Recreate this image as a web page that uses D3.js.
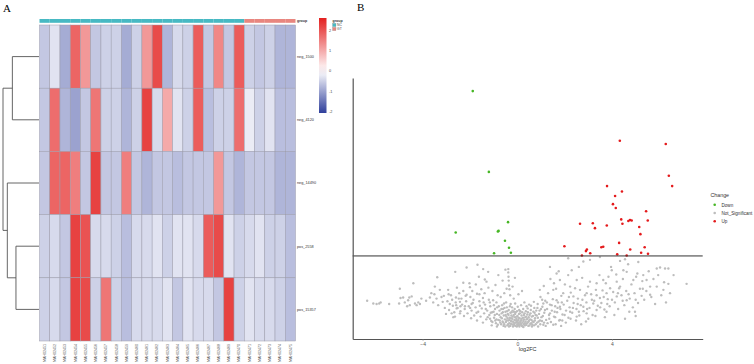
<!DOCTYPE html>
<html lang="en">
<head>
<meta charset="UTF-8"/>
<title>Heatmap and volcano plot</title>
<script src="https://d3js.org/d3.v7.min.js"></script>
<style>
  body { margin: 0; background: #fff; }
  text { font-family: "Liberation Sans", Arial, sans-serif; }
</style>
</head>
<body>
<div id="chart"></div>
<script>
// ---------- panel A data ----------
var samples = ["MAH02451","MAH02452","MAH02453","MAH02454","MAH02455","MAH02456","MAH02457","MAH02458","MAH02459","MAH02460",
               "MAH02461","MAH02462","MAH02463","MAH02464","MAH02465","MAH02466","MAH02467","MAH02468","MAH02469","MAH02470",
               "MAH02471","MAH02472","MAH02473","MAH02474","MAH02475"];
var groups = ["NC","NC","NC","NC","NC","NC","NC","NC","NC","NC","NC","NC","NC","NC","NC","NC","NC","NC","NC","NC",
              "GT","GT","GT","GT","GT"];
var genes = ["neg_1500", "neg_4120", "neg_14490", "pos_2558", "pos_15357"];
var expr = [
  [-0.6,-0.3,-0.9,1.8,1.2,-0.6,-0.5,-0.5,-0.9,-0.5,1.2,2.1,-0.8,-0.4,-0.5,1.9,-0.6,1.4,-0.6,1.9,-0.5,-0.6,-0.5,-0.8,-0.8],
  [-0.6,1.7,-0.8,-1.0,-0.6,1.6,-0.5,-0.5,-0.8,-0.5,2.2,-0.4,1.0,-0.3,-0.5,1.9,-0.7,-0.5,-0.5,1.7,-0.2,-0.5,-0.3,-0.7,-0.7],
  [-0.6,1.8,1.8,1.5,-0.6,2.2,-0.6,-0.6,1.5,-0.6,-0.8,-0.6,-0.6,-0.7,-0.6,-0.6,-0.6,1.2,-0.6,-0.8,-0.6,-0.6,-0.6,-0.8,-0.8],
  [-0.5,-0.4,-0.6,2.2,2.0,-0.4,-0.4,-0.5,-0.7,-0.4,-0.4,-0.3,-0.5,-0.3,-0.3,-0.4,1.9,2.1,-0.3,-0.5,-0.4,-0.3,-0.5,-0.5,-0.7],
  [-0.5,-0.4,-0.6,2.2,2.1,-0.5,1.6,-0.5,-0.7,-0.4,-0.4,-0.4,-0.3,-0.6,-0.3,-0.4,-0.4,-0.6,2.2,-0.5,-0.3,-0.4,-0.4,-0.5,-0.7]
];
// dendrogram merges (height of the join)
var merges = [
  {id: "c1", left: "neg_1500", right: "neg_4120", height: 7.4},
  {id: "c3", left: "pos_2558", right: "pos_15357", height: 6.4},
  {id: "c2", left: "neg_14490", right: "c3", height: 8.8},
  {id: "root", left: "c1", right: "c2", height: 10}
];
var colorTicks = [2, 1, 0, -1, -2];

// ---------- panel B data (log2FC, -log10 p) ----------
var downPts = [[-1.88,4.32],[-1.20,2.84],[-2.60,1.73],[-0.39,1.92],[-0.82,1.75],[-0.79,1.76],[-0.52,1.58],[-0.35,1.45],[-0.98,1.35],[-0.27,1.36]];
var upPts = [[4.33,3.41],[6.27,3.35],[6.40,2.77],[6.54,2.58],[3.79,2.58],[4.42,2.48],[4.13,2.40],[4.04,2.25],[4.16,2.18],[5.44,2.12],
  [4.39,1.97],[5.51,1.95],[4.69,1.94],[4.76,1.96],[4.83,1.95],[4.44,1.89],[2.65,1.89],[3.19,1.90],[3.28,1.81],[3.78,1.86],
  [5.15,1.83],[5.20,1.70],[1.99,1.48],[4.30,1.54],[3.55,1.46],[3.63,1.47],[2.94,1.42],[2.90,1.39],[3.08,1.35],[2.73,1.31],
  [4.77,1.42],[5.38,1.46],[5.23,1.36],[5.52,1.34],[4.22,1.33],[4.62,1.31]];
var nsPts = [
  [-6.34,0.48],[-6.08,0.43],[-5.94,0.42],[-5.83,0.43],[-5.77,0.45],[-5.41,0.42],
  [-4.96,0.70],[-4.39,0.80],[-4.93,0.53],[-4.82,0.54],[-4.75,0.45],[-4.61,0.49],[-4.54,0.40],[-4.46,0.56],[-4.32,0.43],[-4.18,0.45],
  [-4.11,0.42],[-4.99,0.43],[-4.65,0.38],[-4.56,0.54],[-4.25,0.40],
  [-3.69,0.54],[-3.48,0.74],[-3.38,0.91],[-3.27,0.68],[-3.15,0.46],[-3.06,0.35],[-2.92,0.68],[-2.85,0.42],[-3.55,0.45],[-3.34,0.40],
  [-3.01,0.24],[-2.77,0.25],[-3.63,0.62],[-3.10,0.57],[-3.41,0.52],[-2.59,0.54],[-2.62,1.01],[-2.14,1.09],[-1.68,1.14],[-1.44,1.06],
  [-1.23,1.01],[-1.37,0.87],[-2.28,0.81],[-2.00,0.73],[-2.14,0.59],[-2.45,0.62],[-2.42,0.46],[-2.21,0.38],[-1.93,0.42],[-2.56,0.34],
  [-2.42,0.25],[-2.63,0.19],
  [-0.38,1.06],[-0.38,1.00],[-0.37,0.92],[-0.36,0.85],[-0.35,0.76],[-0.33,0.69],
  [-0.75,0.30],[-0.70,0.18],[-0.66,0.25],[-0.62,0.10],[-0.60,0.33],[-0.57,0.21],[-0.55,0.05],[-0.52,0.14],[-0.50,0.28],[-0.48,0.09],
  [-0.46,0.19],[-0.44,0.36],[-0.42,0.03],[-0.40,0.24],[-0.38,0.12],[-0.36,0.31],[-0.34,0.07],[-0.32,0.17],[-0.30,0.02],[-0.29,0.26],
  [-0.27,0.11],[-0.25,0.21],[-0.23,0.05],[-0.21,0.15],[-0.20,0.30],[-0.18,0.01],[-0.16,0.09],[-0.15,0.22],[-0.13,0.04],[-0.12,0.13],
  [-0.10,0.18],[-0.08,0.02],[-0.07,0.27],[-0.05,0.08],[-0.04,0.15],[-0.02,0.01],[-0.01,0.11],[0.00,0.05],[0.01,0.20],[0.03,0.03],
  [0.04,0.13],[0.06,0.07],[0.07,0.24],[0.09,0.01],[0.10,0.16],[0.12,0.09],[0.13,0.29],[0.15,0.04],[0.17,0.12],[0.18,0.21],
  [0.20,0.02],[0.22,0.08],[0.24,0.17],[0.25,0.33],[0.27,0.05],[0.29,0.14],[0.31,0.25],[0.33,0.03],[0.35,0.10],[0.37,0.19],
  [0.39,0.38],[0.41,0.07],[0.43,0.15],[0.45,0.27],[0.47,0.02],[0.49,0.11],[0.52,0.22],[0.55,0.06],[0.57,0.31],[0.60,0.13],
  [0.63,0.04],[0.66,0.20],[0.69,0.09],[0.72,0.35],[0.75,0.16],[0.78,0.05],[-0.64,0.40],[-0.28,0.42],[0.02,0.37],[0.30,0.45],
  [-0.11,0.33],[0.16,0.40],[-0.47,0.45],[0.50,0.41],[-0.22,0.36],[0.08,0.31],[-0.35,0.01],[0.26,0.00],[-0.58,0.02],[0.62,0.01],
  [-0.09,0.43],[0.44,0.34],[-0.72,0.08],[0.73,0.26],
  [-1.15,0.15],[-1.05,0.09],[-0.95,0.22],[-0.88,0.14],[-0.82,0.04],[-0.78,0.38],[-0.74,0.12],[-0.68,0.05],[-0.65,0.16],[-0.61,0.27],
  [-0.59,0.08],[-0.54,0.35],[-0.51,0.01],[-0.49,0.22],[-0.45,0.12],[-0.43,0.29],[-0.41,0.16],[-0.39,0.05],[-0.37,0.22],[-0.33,0.13],
  [-0.31,0.38],[-0.28,0.06],[-0.26,0.16],[-0.24,0.27],[-0.22,0.10],[-0.19,0.19],[-0.17,0.04],[-0.14,0.28],[-0.12,0.07],[-0.09,0.24],
  [-0.06,0.12],[-0.03,0.19],[-0.01,0.29],[0.02,0.09],[0.05,0.17],[0.08,0.04],[0.11,0.25],[0.14,0.12],[0.16,0.06],[0.19,0.15],
  [0.21,0.27],[0.23,0.01],[0.26,0.11],[0.28,0.22],[0.32,0.07],[0.34,0.18],[0.36,0.29],[0.38,0.04],[0.40,0.14],[0.42,0.23],
  [0.46,0.09],[0.48,0.18],[0.51,0.03],[0.54,0.14],[0.56,0.25],[0.59,0.07],[0.61,0.19],[0.65,0.10],[0.68,0.28],[0.71,0.03],
  [0.74,0.12],[0.77,0.22],[0.80,0.30],[0.84,0.08],[0.87,0.17],[0.92,0.24],[0.97,0.05],[1.00,0.33],[1.04,0.11],[1.08,0.20],
  [1.13,0.08],[1.17,0.31],[-1.12,0.26],[-0.99,0.40],[-0.93,0.12],[-0.86,0.01],[-0.76,0.22],[-0.67,0.33],[-0.56,0.43],[0.58,0.39],
  [0.70,0.46],[0.85,0.35],[-1.00,0.28],[1.10,0.43],
  [-2.95,0.47],[-2.88,0.31],[-2.80,0.58],[-2.72,0.39],[-2.66,0.27],[-2.60,0.45],[-2.52,0.35],[-2.47,0.52],[-2.40,0.29],[-2.33,0.41],
  [-2.28,0.66],[-2.22,0.33],[-2.16,0.47],[-2.10,0.25],[-2.05,0.38],[-1.98,0.55],[-1.93,0.30],[-1.88,0.44],[-1.82,0.21],[-1.76,0.36],
  [-1.70,0.61],[-1.65,0.28],[-1.60,0.47],[-1.55,0.19],[-1.50,0.34],[-1.45,0.53],[-1.40,0.25],[-1.36,0.41],[-1.31,0.14],[-1.27,0.30],
  [-1.22,0.72],[-1.18,0.22],[-1.14,0.38],[-1.10,0.11],[-1.06,0.27],[-1.02,0.49],[-0.98,0.17],[-0.94,0.33],[-0.90,0.07],[-0.86,0.24],
  [-0.83,0.58],[-0.80,0.13],[-1.75,0.78],[-1.52,0.69],[-1.30,0.83],[-1.05,0.66],[-0.92,0.77],[-2.55,0.72],[-2.02,0.80],[-1.62,0.92],
  [-0.88,0.45],[-1.20,0.50],[-1.45,0.08],[-1.70,0.12],[-1.95,0.16],[-2.25,0.20],[-2.70,0.18],[-1.08,0.03],[-0.85,0.36],[-1.38,0.62],
  [-2.90,0.60],[-2.75,0.50],[-2.58,0.40],[-2.36,0.52],[-2.18,0.57],[-1.99,0.35],[-1.85,0.50],[-1.72,0.26],[-1.58,0.39],[-1.42,0.45],
  [-1.33,0.33],[-1.25,0.18],[-1.16,0.45],[-1.60,0.60],[-1.90,0.66],[-2.40,0.38],[-3.20,0.55],[-3.50,0.60],[-3.85,0.48],[-4.05,0.52],
  [-0.70,0.55],[-0.55,0.62],[-0.45,0.70],[-0.30,0.58],[-0.15,0.52],[-0.62,0.85],[-0.20,0.74],[0.05,0.60],[-0.80,0.95],[-0.50,1.05],
  [-0.10,0.90],[0.20,0.66],
  [0.82,0.21],[0.86,0.42],[0.90,0.10],[0.94,0.30],[0.98,0.55],[1.02,0.18],[1.06,0.37],[1.10,0.04],[1.14,0.26],[1.18,0.48],
  [1.22,0.13],[1.26,0.33],[1.30,0.62],[1.34,0.22],[1.38,0.41],[1.42,0.09],[1.46,0.30],[1.50,0.51],[1.55,0.19],[1.60,0.38],
  [1.64,0.70],[1.68,0.27],[1.72,0.45],[1.77,0.12],[1.82,0.33],[1.86,0.57],[1.91,0.23],[1.96,0.41],[2.01,0.78],[2.06,0.30],
  [2.11,0.48],[2.16,0.17],[2.21,0.36],[2.26,0.63],[2.32,0.26],[2.38,0.44],[2.44,0.71],[2.50,0.33],[2.56,0.52],[2.62,0.21],
  [2.68,0.40],[2.74,0.90],[2.80,0.29],[2.86,0.58],[2.92,0.45],[2.99,0.74],[3.05,0.35],[3.12,0.60],[3.18,0.22],[3.25,0.48],
  [3.32,0.68],[3.40,0.39],[3.47,0.95],[1.12,0.75],[1.40,0.88],[0.95,0.68],[1.75,1.02],[2.15,0.95],[2.60,1.10],[1.55,0.80],
  [0.88,0.01],[1.20,0.02],[1.62,0.05],[2.05,0.08],[2.48,0.12],[0.96,0.12],[1.28,0.07],[2.70,0.05],[3.00,0.15],[1.85,0.02],
  [1.05,0.50],[1.25,0.45],[1.45,0.40],[1.58,0.28],[1.70,0.35],[1.88,0.45],[2.00,0.22],[2.18,0.55],[2.35,0.35],[2.55,0.42],
  [2.75,0.50],[2.95,0.33],[3.15,0.50],[3.35,0.58],[3.50,0.36],[3.65,0.55],[3.80,0.42],[4.00,0.50],[4.25,0.62],[4.45,0.48],
  [4.70,0.60],[5.00,0.50],[5.30,0.70],[1.35,0.15],[1.60,0.18],[1.90,0.12],[2.25,0.15],[2.60,0.28],[2.90,0.10],[3.30,0.20],
  [2.15,1.26],[3.07,1.23],[3.49,1.28],[4.34,1.21],[4.55,1.24],[5.11,1.19],[2.79,1.20],[5.89,1.07],[6.03,1.09],[6.24,1.07],
  [6.38,1.07],[7.15,0.79],[6.38,0.79],[6.28,0.45],[5.61,0.74],[5.25,0.57],[4.97,0.28],[4.73,0.28],
  [1.38,1.10],[1.66,0.98],[1.80,0.86],[2.30,1.04],[2.51,0.86],[3.07,0.83],[3.35,0.80],[3.63,0.86],[3.85,0.92],[3.99,1.04],
  [4.20,0.83],[4.48,1.04],[4.62,1.01],[4.90,0.86],[5.07,0.98],[5.32,0.95],[5.46,0.86],[4.34,0.74],[3.92,0.71],[3.77,0.62],
  [4.20,0.56],[4.62,0.49],[3.49,0.53],[3.21,0.43],[2.79,0.37],[3.35,0.31],[2.93,0.25],[2.23,0.28],[1.80,0.37],[1.66,0.49],
  [1.94,0.62],[1.52,0.68],[2.37,0.56],[2.65,0.68],[2.93,0.62],[2.23,0.74],[1.38,0.25],[1.80,0.13],[1.52,0.04],[2.51,0.19],
  [3.77,0.28],[5.61,0.59],[5.89,0.74],[6.17,0.68],
  [3.55,0.44],[3.60,0.67],[3.68,0.32],[3.74,0.80],[3.82,0.51],[3.90,0.38],[3.96,1.10],[4.05,0.64],[4.12,0.45],[4.18,0.96],
  [4.26,0.33],[4.30,0.71],[4.40,0.58],[4.46,0.88],[4.52,0.40],[4.60,0.66],[4.68,1.15],[4.75,0.52],[4.82,0.78],[4.88,0.36],
  [4.95,0.62],[5.02,0.92],[5.10,0.44],[5.18,0.70],[5.28,0.84],[5.36,0.50],[5.45,0.66],[5.55,1.02],[5.66,0.55],[5.75,0.88],
  [5.82,0.42],[5.95,0.95],[6.08,0.58],[6.20,0.82],[6.45,0.62],[6.60,0.95],[3.70,0.18],[4.10,0.22],[4.55,0.15],[5.00,0.20]
];
var xTicks = [-4, 0, 4];
var pThreshold = 0.05;
var legendItems = ["Down", "Not_Significant", "Up"];
var legendColors = ["#46b624", "#bdbdbd", "#e41a1c"];

var width = 754, height = 364;
var svg = d3.select("#chart").append("svg").attr("width", width).attr("height", height);

// ================= panel A: heatmap =================
svg.append("text").attr("x", 3).attr("y", 12).text("A")
    .style("font-family", "Liberation Serif, serif").style("font-size", "11px");

var xBand = d3.scaleBand().domain(samples).range([39.5, 295.5]);
var yBand = d3.scaleBand().domain(genes).range([25, 341]);
var color = d3.scaleLinear().domain([-2.07, 0, 2.6]).range(["#2f3f9c", "#ffffff", "#e3201f"]);
var groupColor = d3.scaleOrdinal().domain(["NC", "GT"]).range(["#47b9c3", "#e8867f"]);

// annotation bar
svg.selectAll("rect.grp").data(samples).enter().append("rect")
    .attr("x", function (d) { return xBand(d); })
    .attr("y", 19).attr("width", xBand.bandwidth()).attr("height", 3.8)
    .attr("fill", function (d, i) { return groupColor(groups[i]); });
svg.append("text").attr("x", 297).attr("y", 22).text("group")
    .style("font-size", "3.6px").style("font-weight", "bold").attr("fill", "#333");

// cells
var cells = [];
expr.forEach(function (row, r) {
    row.forEach(function (v, c) { cells.push({gene: genes[r], sample: samples[c], v: v}); });
});
svg.selectAll("rect.cell").data(cells).enter().append("rect")
    .attr("x", function (d) { return xBand(d.sample); })
    .attr("y", function (d) { return yBand(d.gene); })
    .attr("width", xBand.bandwidth()).attr("height", yBand.bandwidth())
    .attr("fill", function (d) { return color(d.v); })
    .attr("stroke", "#9c9cab").attr("stroke-width", 0.5);

// row labels
svg.selectAll("text.row").data(genes).enter().append("text")
    .attr("x", 297).attr("y", function (d) { return yBand(d) + yBand.bandwidth() / 2 + 1.3; })
    .text(function (d) { return d; })
    .style("font-size", "3.8px").attr("fill", "#333");

// column labels
svg.selectAll("text.col").data(samples).enter().append("text")
    .attr("transform", function (d) { return "translate(" + (xBand(d) + xBand.bandwidth() / 2 + 1.2) + ",344) rotate(-90)"; })
    .attr("text-anchor", "end")
    .text(function (d) { return d; })
    .style("font-size", "3.6px").attr("fill", "#555");

// dendrogram
var dx = d3.scaleLinear().domain([0, 10]).range([39, 3]);
var nodeY = {};
genes.forEach(function (g) { nodeY[g] = yBand(g) + yBand.bandwidth() / 2; });
var nodeH = {};
genes.forEach(function (g) { nodeH[g] = 0; });
merges.forEach(function (m) {
    var y1 = nodeY[m.left], y2 = nodeY[m.right];
    var x = dx(m.height);
    var path = "M" + dx(nodeH[m.left]) + "," + y1 + "H" + x + "V" + y2 + "H" + dx(nodeH[m.right]);
    svg.append("path").attr("d", path).attr("fill", "none").attr("stroke", "#555").attr("stroke-width", 0.9);
    nodeY[m.id] = (y1 + y2) / 2;
    nodeH[m.id] = m.height;
});

// colour bar
var defs = svg.append("defs");
var grad = defs.append("linearGradient").attr("id", "cbar").attr("x1", 0).attr("y1", 1).attr("x2", 0).attr("y2", 0);
d3.range(0, 11).forEach(function (i) {
    var v = -2.07 + i * (4.67 / 10);
    grad.append("stop").attr("offset", i / 10).attr("stop-color", color(v));
});
var cbScale = d3.scaleLinear().domain([-2.07, 2.6]).range([113, 18]);
svg.append("rect").attr("x", 319).attr("y", 18).attr("width", 7.5).attr("height", 95).attr("fill", "url(#cbar)");
svg.selectAll("text.cb").data(colorTicks).enter().append("text")
    .attr("x", 329).attr("y", function (d) { return cbScale(d) + 1.3; })
    .text(function (d) { return d; })
    .style("font-size", "3.8px").attr("fill", "#444");

// group legend
svg.append("text").attr("x", 332.5).attr("y", 22).text("group")
    .style("font-size", "3.6px").style("font-weight", "bold").attr("fill", "#333");
["NC", "GT"].forEach(function (g, i) {
    svg.append("rect").attr("x", 332.5).attr("y", 23.3 + i * 4).attr("width", 3.5).attr("height", 3.4)
        .attr("fill", groupColor(g)).attr("stroke", "#999").attr("stroke-width", 0.3);
    svg.append("text").attr("x", 337).attr("y", 26.2 + i * 4).text(g)
        .style("font-size", "3.4px").attr("fill", "#444");
});

// ================= panel B: volcano =================
svg.append("text").attr("x", 357).attr("y", 11).text("B")
    .style("font-family", "Liberation Serif, serif").style("font-size", "11px");

var xScale = d3.scaleLinear().domain([-6.95, 7.83]).range([352.7, 702.7]);
var yScale = d3.scaleLinear().domain([-0.22, 4.56]).range([339, 78]);

svg.append("g").selectAll("circle").data(nsPts).enter().append("circle")
    .attr("cx", function (d) { return xScale(d[0]); })
    .attr("cy", function (d) { return yScale(d[1]); })
    .attr("r", 1.2).attr("fill", legendColors[1]);
svg.append("g").selectAll("circle").data(downPts).enter().append("circle")
    .attr("cx", function (d) { return xScale(d[0]); })
    .attr("cy", function (d) { return yScale(d[1]); })
    .attr("r", 1.3).attr("fill", legendColors[0]);
svg.append("g").selectAll("circle").data(upPts).enter().append("circle")
    .attr("cx", function (d) { return xScale(d[0]); })
    .attr("cy", function (d) { return yScale(d[1]); })
    .attr("r", 1.3).attr("fill", legendColors[2]);

// threshold line
var ty = yScale(-Math.log10(pThreshold));
svg.append("line").attr("x1", 352.7).attr("x2", 702.7).attr("y1", ty).attr("y2", ty)
    .attr("stroke", "#333").attr("stroke-width", 1);

// axes
var xAxis = d3.axisBottom(xScale).tickValues(xTicks).tickSize(2).tickSizeOuter(0);
var gx = svg.append("g").attr("transform", "translate(0,339)").call(xAxis);
gx.select(".domain").attr("stroke", "#555").attr("stroke-width", 1.2);
gx.selectAll(".tick line").attr("stroke", "#888").attr("stroke-width", 0.5);
gx.selectAll(".tick text").attr("y", 3).style("font-size", "5px").attr("fill", "#555");

var yAxis = d3.axisLeft(yScale).tickValues([]).tickSizeOuter(0);
var gy = svg.append("g").attr("transform", "translate(352.7,0)").call(yAxis);
gy.select(".domain").attr("stroke", "#555").attr("stroke-width", 1.2);

svg.append("text").attr("x", 527.7).attr("y", 351).attr("text-anchor", "middle")
    .text("log2FC").style("font-size", "5.5px").attr("fill", "#333");

// legend
svg.append("text").attr("x", 710.5).attr("y", 197).text("Change")
    .style("font-size", "5.3px").attr("fill", "#333");
legendItems.forEach(function (d, i) {
    svg.append("circle").attr("cx", 714.7).attr("cy", 204.7 + i * 8.3).attr("r", 1.3).attr("fill", legendColors[i]);
    svg.append("text").attr("x", 721.5).attr("y", 206.5 + i * 8.3).text(d)
        .style("font-size", "4.6px").attr("fill", "#333");
});
</script>
</body>
</html>
